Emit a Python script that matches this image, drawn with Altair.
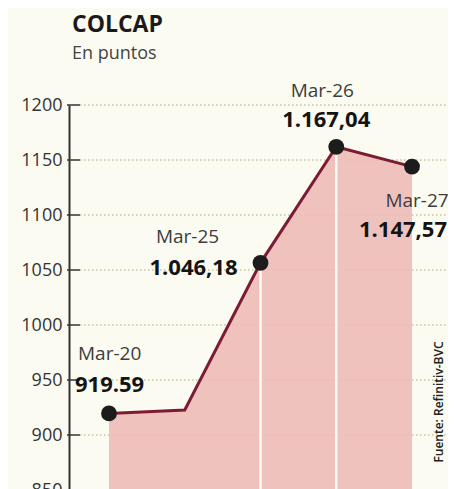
import altair as alt
import pandas as pd

# ---- data ----
dates = ["Mar-20", "Mar-24", "Mar-25", "Mar-26", "Mar-27"]
values = [919.6, 922.7, 1056.5, 1162.0, 1144.0]
value_labels = ["919.59", "", "1.046,18", "1.167,04", "1.147,57"]
has_dot = [True, False, True, True, True]
y_ticks = [850, 900, 950, 1000, 1050, 1100, 1150, 1200]
title_text = "COLCAP"
subtitle_text = "En puntos"
source_text = "Fuente: Refinitiv-BVC"

df = pd.DataFrame({"date": dates, "value": values, "label": value_labels, "dot": has_dot})
ticks_df = pd.DataFrame({"tick": y_ticks})

W, H = 379, 385
FONT = "Open Sans"
BG = "#fbfbf2"

yscale = alt.Scale(domain=[850, 1200], zero=False, nice=False)
yaxis = alt.Axis(values=y_ticks, format="d", title=None, ticks=False, grid=False,
                 labelPadding=7, labelFontSize=18, labelFont=FONT, labelColor="#333333",
                 domainColor="#333333", domainWidth=2)
x_enc = alt.X("date:N", sort=dates,
              scale=alt.Scale(type="point", range=[40, 343], padding=0), axis=None)
y_enc = alt.Y("value:Q", scale=yscale, axis=yaxis)
tick_y = alt.Y("tick:Q", scale=yscale, axis=yaxis)

base = alt.Chart(df)

grid = alt.Chart(ticks_df).mark_rule(color="#aaa67c", strokeWidth=1, strokeDash=[1.5, 2.5]).encode(
    x=alt.value(11), x2=alt.value(W), y=tick_y)

area = base.mark_area(color="#edb8b5", fillOpacity=0.86).encode(
    x=x_enc, y=y_enc, y2=alt.datum(850))

seps = base.transform_filter(
    alt.FieldOneOfPredicate(field="date", oneOf=["Mar-25", "Mar-26"])
).mark_rule(color=BG, strokeWidth=2.5).encode(x=x_enc, y=y_enc, y2=alt.datum(850))

line = base.mark_line(color="#7b1c34", strokeWidth=3).encode(x=x_enc, y=y_enc)

dots = base.transform_filter("datum.dot").mark_circle(
    size=250, color="#1c1c1c", opacity=1).encode(x=x_enc, y=y_enc)

tick_marks = alt.Chart(ticks_df).mark_rule(color="#333333", strokeWidth=1.5).encode(
    x=alt.value(-2), x2=alt.value(11), y=tick_y)

# label placements: (date, kind, dx, dy, align)
placements = [
    ("Mar-20", "date", -31, -53, "left"),
    ("Mar-20", "value", -34, -21, "left"),
    ("Mar-25", "date", -73, -20, "center"),
    ("Mar-25", "value", -23, 12, "right"),
    ("Mar-26", "date", -14, -50, "center"),
    ("Mar-26", "value", -10, -20, "center"),
    ("Mar-27", "date", 5, 40, "center"),
    ("Mar-27", "value", 35, 70, "right"),
]
label_layers = []
for d, kind, dx, dy, al in placements:
    if kind == "date":
        m = base.transform_filter(alt.datum.date == d).mark_text(
            dx=dx, dy=dy, align=al, baseline="alphabetic", font=FONT,
            fontSize=19, color="#3d3d3d").encode(x=x_enc, y=y_enc, text="date:N")
    else:
        m = base.transform_filter(alt.datum.date == d).mark_text(
            dx=dx, dy=dy, align=al, baseline="alphabetic", font=FONT,
            fontSize=22, fontWeight="bold", color="#141414"
        ).encode(x=x_enc, y=y_enc, text="label:N")
    label_layers.append(m)

title = alt.Chart(pd.DataFrame({"t": [title_text]})).mark_text(
    align="left", baseline="alphabetic", font=FONT, fontSize=23, fontWeight="bold",
    color="#1a1a1a").encode(x=alt.value(3), y=alt.value(-73), text="t:N")
subtitle = alt.Chart(pd.DataFrame({"t": [subtitle_text]})).mark_text(
    align="left", baseline="alphabetic", font=FONT, fontSize=18,
    color="#444444").encode(x=alt.value(3), y=alt.value(-46), text="t:N")
source = alt.Chart(pd.DataFrame({"t": [source_text]})).mark_text(
    align="center", baseline="middle", angle=270, font=FONT, fontSize=12,
    fontWeight=600, color="#222222").encode(x=alt.value(370), y=alt.value(297), text="t:N")

chart = alt.layer(grid, area, seps, line, dots, tick_marks, *label_layers,
                  title, subtitle, source).properties(
    width=W, height=H,
    autosize=alt.AutoSizeParams(type="none"),
    padding={"left": 61, "top": 97, "right": 0, "bottom": 0},
    background=BG,
).configure_view(stroke=None)

chart.save("out.html", embed_options={"renderer": "svg", "actions": False})
